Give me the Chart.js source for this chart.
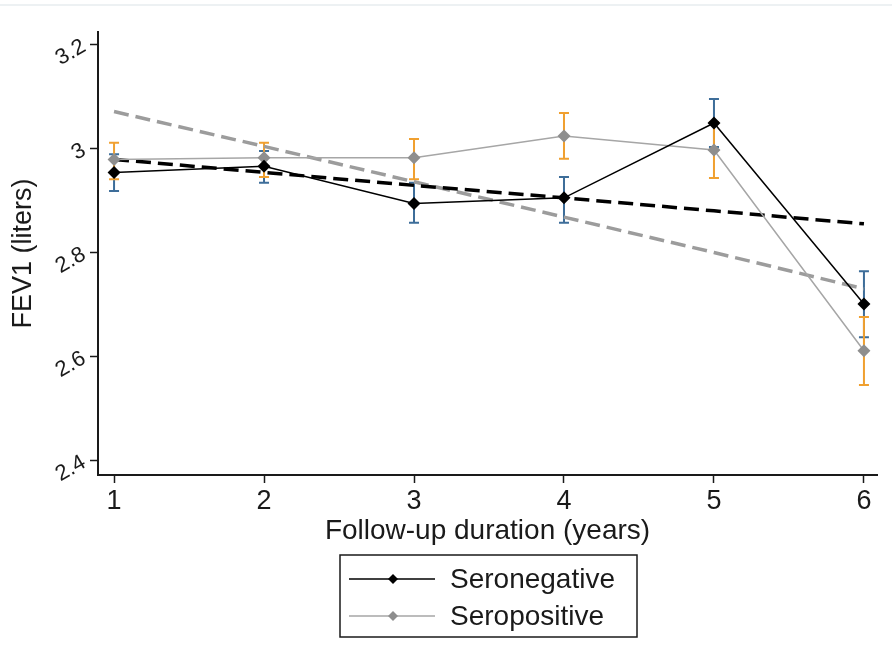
<!DOCTYPE html>
<html>
<head>
<meta charset="utf-8">
<script src="https://cdn.jsdelivr.net/npm/chart.js@4/dist/chart.umd.min.js"></script>
<style>
  html, body { margin: 0; padding: 0; background: #fff; }
  #wrap { position: relative; width: 892px; height: 665px; }
  #topline { position: absolute; left: 0; top: 4px; width: 892px; height: 2px; background: #edf1f3; }
  canvas { position: absolute; left: 0; top: 0; }
</style>
</head>
<body>
<div id="wrap">
  <canvas id="fev1" width="892" height="665"></canvas>
  <div id="topline"></div>
</div>
<script>
/* ── data ─────────────────────────────────────────────────────────── */
const years        = [1, 2, 3, 4, 5, 6];
const yTicks       = [2.4, 2.6, 2.8, 3.0, 3.2];

const seroneg      = [2.955, 2.967, 2.895, 2.906, 3.050, 2.702];
const seronegLo    = [2.919, 2.935, 2.858, 2.858, 3.004, 2.638];
const seronegHi    = [2.990, 2.996, 2.935, 2.946, 3.096, 2.765];
const seronegFit   = [2.980, 2.955, 2.930, 2.906, 2.881, 2.856];

const seropos      = [2.980, 2.983, 2.983, 3.025, 2.998, 2.612];
const seroposLo    = [2.942, 2.946, 2.942, 2.981, 2.944, 2.546];
const seroposHi    = [3.012, 3.012, 3.019, 3.069, 3.052, 2.677];
const seroposFit   = [3.072, 3.005, 2.937, 2.869, 2.801, 2.731];

const legendLabels = ['Seronegative', 'Seropositive'];

/* ── colours ──────────────────────────────────────────────────────── */
const COL = {
  neg     : '#000000',
  pos     : '#a6a6a6',
  posPt   : '#8e8e8e',
  negFit  : '#000000',
  posFit  : '#9c9c9c',
  negCI   : '#3d6d99',
  posCI   : '#f0a030',
  axis    : '#1a1a1a',
  text    : '#1a1a1a',
};
const FONT = 'Liberation Sans, Arial, sans-serif';

const pts = ys => years.map((x, i) => ({ x, y: ys[i] }));

/* ── error bars, drawn through the chart scales ───────────────────── */
const errorBars = {
  id: 'errorBars',
  beforeDatasetsDraw(chart) {
    const { ctx, scales: { x, y } } = chart;
    const sets = [
      { lo: seronegLo, hi: seronegHi, color: COL.negCI },
      { lo: seroposLo, hi: seroposHi, color: COL.posCI },
    ];
    ctx.save();
    ctx.lineWidth = 2;
    sets.forEach(s => {
      ctx.strokeStyle = s.color;
      years.forEach((yr, i) => {
        const px = x.getPixelForValue(yr);
        const y0 = y.getPixelForValue(s.lo[i]);
        const y1 = y.getPixelForValue(s.hi[i]);
        ctx.beginPath();
        ctx.moveTo(px, y0); ctx.lineTo(px, y1);
        ctx.moveTo(px - 5, y0); ctx.lineTo(px + 5, y0);
        ctx.moveTo(px - 5, y1); ctx.lineTo(px + 5, y1);
        ctx.stroke();
      });
    });
    ctx.restore();
  },
};

/* ── boxed legend below the plot ──────────────────────────────────── */
const boxLegend = {
  id: 'boxLegend',
  afterDraw(chart) {
    const { ctx } = chart;
    const entries = [
      { label: legendLabels[0], line: COL.neg, pt: COL.neg },
      { label: legendLabels[1], line: COL.pos, pt: COL.posPt },
    ];
    ctx.save();
    ctx.strokeStyle = COL.axis;
    ctx.lineWidth = 1.5;
    ctx.strokeRect(340, 555, 297, 82);
    entries.forEach((e, i) => {
      const cy = 579 + i * 37;
      ctx.strokeStyle = e.line;
      ctx.lineWidth = 1.5;
      ctx.beginPath();
      ctx.moveTo(349, cy); ctx.lineTo(435, cy);
      ctx.stroke();
      ctx.fillStyle = e.pt;
      ctx.beginPath();
      ctx.moveTo(393, cy - 5); ctx.lineTo(398, cy);
      ctx.lineTo(393, cy + 5); ctx.lineTo(388, cy);
      ctx.closePath();
      ctx.fill();
      ctx.fillStyle = COL.text;
      ctx.font = `28px ${FONT}`;
      ctx.textBaseline = 'middle';
      ctx.textAlign = 'left';
      ctx.fillText(e.label, 450, cy + 1);
    });
    ctx.restore();
  },
};

new Chart(document.getElementById('fev1'), {
  type: 'line',
  data: {
    datasets: [
      {
        label: legendLabels[0],
        data: pts(seroneg),
        borderColor: COL.neg,
        backgroundColor: COL.neg,
        borderWidth: 1.5,
        pointStyle: 'rectRot',
        pointRadius: 6.5,
        pointBorderWidth: 0,
        tension: 0,
      },
      {
        label: legendLabels[1],
        data: pts(seropos),
        borderColor: COL.pos,
        backgroundColor: COL.posPt,
        borderWidth: 1.5,
        pointStyle: 'rectRot',
        pointRadius: 6.5,
        pointBorderWidth: 0,
        tension: 0,
      },
      {
        label: 'Seronegative fit',
        data: pts(seronegFit),
        borderColor: COL.negFit,
        borderWidth: 3.5,
        borderDash: [15, 7],
        pointRadius: 0,
        tension: 0,
      },
      {
        label: 'Seropositive fit',
        data: pts(seroposFit),
        borderColor: COL.posFit,
        borderWidth: 3.5,
        borderDash: [15, 7],
        pointRadius: 0,
        tension: 0,
      },
    ],
  },
  options: {
    responsive: false,
    animation: false,
    layout: { padding: { left: 0, right: 15, top: 32, bottom: 120 } },
    plugins: {
      legend: { display: false },
      tooltip: { enabled: false },
    },
    scales: {
      x: {
        type: 'linear',
        min: 0.893,
        max: 6.087,
        afterBuildTicks: s => { s.ticks = years.map(v => ({ value: v })); },
        afterFit: s => { s.height = 70; },
        border: { display: true, color: COL.axis, width: 2 },
        grid: { drawOnChartArea: false, color: COL.axis, tickLength: 8, tickWidth: 1.5 },
        ticks: {
          color: COL.text,
          font: { family: FONT, size: 27 },
          padding: 2,
          maxRotation: 0,
          callback: v => String(v),
        },
        title: {
          display: true,
          text: 'Follow-up duration (years)',
          color: COL.text,
          font: { family: FONT, size: 28, lineHeight: 1 },
          padding: 0,
        },
      },
      y: {
        type: 'linear',
        min: 2.373,
        max: 3.225,
        afterBuildTicks: s => { s.ticks = yTicks.map(v => ({ value: v })); },
        afterFit: s => { s.width = 98; },
        border: { display: true, color: COL.axis, width: 2 },
        grid: { drawOnChartArea: false, color: COL.axis, tickLength: 8, tickWidth: 1.5 },
        ticks: {
          color: COL.text,
          font: { family: FONT, size: 22 },
          padding: 6,
          minRotation: 30,
          maxRotation: 30,
          callback: v => String(+v.toFixed(1)),
        },
        title: {
          display: true,
          text: 'FEV1 (liters)',
          color: COL.text,
          font: { family: FONT, size: 27, lineHeight: 1 },
          padding: { top: 10 },
        },
      },
    },
  },
  plugins: [errorBars, boxLegend],
});
</script>
</body>
</html>
